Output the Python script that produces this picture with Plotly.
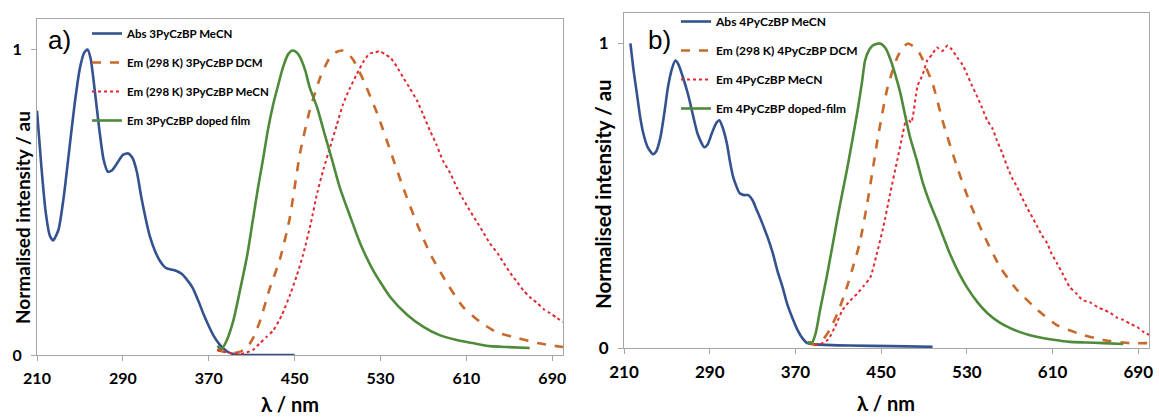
import plotly.graph_objects as go

# ---------------- Panel a) 3PyCzBP ----------------
a_abs_wl = [210, 214, 218, 222, 225, 230, 235, 240, 245, 250, 254, 257, 260, 264, 268, 272, 276, 280,
            285, 290, 295, 299, 303, 307, 311, 315, 320, 325, 330, 335, 340, 345, 350, 355, 360, 365,
            370, 375, 380, 385, 390, 395, 400, 420, 450]
a_abs_int = [0.80, 0.62, 0.47, 0.39, 0.375, 0.41, 0.52, 0.67, 0.82, 0.94, 0.99, 1.0, 0.97, 0.86, 0.74,
             0.64, 0.60, 0.605, 0.63, 0.655, 0.66, 0.645, 0.60, 0.52, 0.45, 0.39, 0.34, 0.305, 0.285,
             0.28, 0.275, 0.265, 0.245, 0.22, 0.18, 0.135, 0.095, 0.06, 0.035, 0.017, 0.006, 0.002,
             0.0, 0.0, 0.0]

a_dcm_wl = [378, 382, 386, 392, 400, 406, 412, 418, 427, 436, 445, 455, 464, 474, 483, 489, 494, 499,
            505, 514, 527, 539, 551, 564, 576, 592, 607, 623, 638, 657, 676, 700]
a_dcm_int = [0.02, 0.012, 0.01, 0.006, 0.012, 0.026, 0.06, 0.114, 0.22, 0.31, 0.44, 0.66, 0.80, 0.91,
             0.975, 0.992, 0.997, 0.99, 0.964, 0.90, 0.79, 0.67, 0.549, 0.43, 0.333, 0.235, 0.157,
             0.108, 0.075, 0.056, 0.039, 0.026]

a_mecn_wl = [378, 385, 392, 400, 405, 411, 418, 424, 430, 438, 446, 452, 458, 465, 471, 477, 483, 489,
             495, 501, 508, 514, 520, 525, 529, 534, 539, 545, 551, 557, 564, 570, 576, 582, 588, 595,
             601, 607, 613, 619, 626, 632, 639, 645, 651, 657, 663, 669, 676, 682, 688, 694, 700]
a_mecn_int = [0.015, 0.01, 0.005, 0.004, 0.008, 0.016, 0.04, 0.06, 0.08, 0.13, 0.2, 0.26, 0.33, 0.43,
              0.53, 0.61, 0.68, 0.75, 0.82, 0.87, 0.92, 0.96, 0.987, 0.99, 0.995, 0.985, 0.974, 0.945,
              0.909, 0.875, 0.833, 0.785, 0.735, 0.69, 0.637, 0.595, 0.549, 0.51, 0.474, 0.44, 0.40,
              0.365, 0.333, 0.30, 0.268, 0.24, 0.212, 0.19, 0.17, 0.15, 0.137, 0.122, 0.108]

a_film_wl = [378, 382, 387, 393, 399, 406, 411, 416, 421, 425, 430, 434, 439, 444, 448, 452, 455, 460,
             464, 471, 477, 485, 492, 502, 511, 523, 539, 555, 570, 585, 601, 616, 632, 648, 669]
a_film_int = [0.03, 0.02, 0.05, 0.114, 0.21, 0.33, 0.44, 0.55, 0.65, 0.735, 0.82, 0.875, 0.94, 0.985,
              0.997, 0.99, 0.975, 0.93, 0.876, 0.81, 0.735, 0.637, 0.549, 0.451, 0.366, 0.278, 0.19,
              0.131, 0.092, 0.065, 0.049, 0.039, 0.029, 0.026, 0.023]

# ---------------- Panel b) 4PyCzBP ----------------
b_abs_wl = [216, 219, 222, 225, 228, 232, 237, 240, 244, 248, 251, 255, 258, 261, 265, 270, 274, 279,
            285, 288, 292, 296, 299, 302, 306, 309, 312, 315, 318, 322, 326, 330, 334, 339, 344, 349,
            353, 358, 362, 367, 372, 377, 381, 390, 420, 460, 498]
b_abs_int = [1.0, 0.91, 0.836, 0.76, 0.705, 0.66, 0.636, 0.645, 0.692, 0.78, 0.856, 0.92, 0.944, 0.93,
             0.889, 0.83, 0.77, 0.70, 0.659, 0.668, 0.705, 0.738, 0.748, 0.725, 0.672, 0.61, 0.56,
             0.53, 0.508, 0.502, 0.502, 0.485, 0.452, 0.41, 0.364, 0.31, 0.256, 0.20, 0.148, 0.10,
             0.059, 0.03, 0.016, 0.012, 0.008, 0.006, 0.004]

b_dcm_wl = [383, 388, 394, 402, 410, 418, 424, 430, 438, 447, 456, 465, 470, 475, 480, 486, 492, 498,
            508, 521, 533, 545, 561, 577, 596, 614, 633, 657, 682, 700]
b_dcm_int = [0.02, 0.01, 0.02, 0.06, 0.12, 0.20, 0.27, 0.344, 0.495, 0.692, 0.856, 0.954, 0.985, 1.0,
             0.99, 0.967, 0.92, 0.869, 0.738, 0.593, 0.475, 0.377, 0.266, 0.19, 0.125, 0.075, 0.049,
             0.026, 0.016, 0.016]

b_mecn_wl = [383, 390, 400, 407, 414, 421, 428, 434, 440, 446, 452, 458, 465, 470, 474, 478, 484, 489,
             493, 498, 502, 507, 512, 516, 521, 526, 530, 535, 540, 544, 549, 554, 558, 563, 568, 572,
             577, 582, 586, 591, 596, 600, 605, 609, 614, 620, 626, 632, 638, 645, 652, 658, 664, 670,
             676, 682, 689, 694, 700]
b_mecn_int = [0.02, 0.01, 0.026, 0.07, 0.125, 0.155, 0.18, 0.205, 0.233, 0.31, 0.397, 0.50, 0.616,
              0.70, 0.757, 0.74, 0.86, 0.90, 0.944, 0.965, 0.987, 0.975, 0.993, 0.98, 0.954, 0.93,
              0.90, 0.86, 0.823, 0.79, 0.748, 0.72, 0.682, 0.64, 0.593, 0.56, 0.528, 0.49, 0.462,
              0.43, 0.397, 0.37, 0.344, 0.31, 0.279, 0.24, 0.20, 0.18, 0.157, 0.15, 0.134, 0.125,
              0.115, 0.10, 0.092, 0.08, 0.069, 0.055, 0.043]

b_film_wl = [381, 385, 389, 393, 399, 405, 411, 418, 423, 428, 432, 435, 439, 443, 449, 454, 458, 463,
             468, 472, 477, 483, 489, 495, 502, 508, 514, 522, 530, 540, 549, 560, 570, 583, 596, 611,
             626, 641, 657, 676]
b_film_int = [0.02, 0.015, 0.05, 0.125, 0.23, 0.344, 0.46, 0.584, 0.68, 0.78, 0.87, 0.944, 0.98, 0.995,
              1.0, 0.985, 0.954, 0.90, 0.836, 0.77, 0.692, 0.62, 0.541, 0.48, 0.42, 0.365, 0.311,
              0.25, 0.20, 0.15, 0.115, 0.085, 0.066, 0.048, 0.036, 0.027, 0.02, 0.018, 0.016, 0.013]

x_ticks = [210, 290, 370, 450, 530, 610, 690]
y_ticks = [0, 1]

names_a = ["Abs 3PyCzBP MeCN", "Em (298 K) 3PyCzBP DCM", "Em (298 K) 3PyCzBP MeCN",
           "Em 3PyCzBP doped film"]
names_b = ["Abs 4PyCzBP MeCN", "Em (298 K) 4PyCzBP DCM", "Em 4PyCzBP MeCN",
           "Em 4PyCzBP doped-film"]

BLUE = "#34528F"
ORANGE = "#C8692A"
RED = "#E3262F"
GREEN = "#4E8A3A"
AXIS = "#A6A6A6"
FONT = "Lato"

styles = [dict(color=BLUE, width=2.6, dash="solid"),
          dict(color=ORANGE, width=2.6, dash="dash"),
          dict(color=RED, width=2.0, dash="dot"),
          dict(color=GREEN, width=2.6, dash="solid")]

fig = go.Figure()

series_a = [(a_abs_wl, a_abs_int), (a_dcm_wl, a_dcm_int), (a_mecn_wl, a_mecn_int), (a_film_wl, a_film_int)]
series_b = [(b_abs_wl, b_abs_int), (b_dcm_wl, b_dcm_int), (b_mecn_wl, b_mecn_int), (b_film_wl, b_film_int)]

for i, ((xs, ys), nm) in enumerate(zip(series_a, names_a)):
    fig.add_trace(go.Scatter(x=xs, y=ys, mode="lines", name=nm, line=dict(shape="spline", smoothing=0.6, **styles[i]),
                             xaxis="x", yaxis="y", legend="legend", legendgroup="a%d" % i))
for i, ((xs, ys), nm) in enumerate(zip(series_b, names_b)):
    fig.add_trace(go.Scatter(x=xs, y=ys, mode="lines", name=nm, line=dict(shape="spline", smoothing=0.6, **styles[i]),
                             xaxis="x2", yaxis="y2", legend="legend2", legendgroup="b%d" % i))

W, H = 1159, 417

def xax(domain, size, anchor):
    return dict(domain=domain, range=[210, 700], tickvals=x_ticks, showline=True, linecolor=AXIS,
                linewidth=1, mirror=True, ticks="outside", ticklen=5, tickcolor=AXIS, showgrid=False,
                zeroline=False, ticklabelstandoff=4, automargin=False, anchor=anchor,
                tickfont=dict(family=FONT, size=size, color="#000000", weight="bold"))

def yax(domain, size, anchor):
    return dict(domain=domain, range=[0, 1.1], tickvals=y_ticks, showline=True, linecolor=AXIS,
                linewidth=1, mirror=True, ticks="outside", ticklen=5, tickcolor=AXIS, showgrid=False,
                zeroline=False, ticklabelstandoff=6, automargin=False, anchor=anchor,
                tickfont=dict(family=FONT, size=size, color="#000000", weight="bold"))

def ann(text, x, y, size, family=FONT, bold=True, angle=0):
    f = dict(family=family, size=size, color="#000000")
    if bold:
        f["weight"] = "bold"
    return dict(text=text, x=x / W, y=1 - y / H, xref="paper", yref="paper", showarrow=False,
                xanchor="center", yanchor="middle", textangle=angle, font=f)

fig.update_layout(
    width=W, height=H, autosize=False,
    margin=dict(l=0, r=0, t=0, b=0, pad=0),
    paper_bgcolor="white", plot_bgcolor="white",
    xaxis=xax([37 / W, 563 / W], 16, "y"),
    yaxis=yax([1 - 355 / H, 1 - 19 / H], 16, "x"),
    xaxis2=xax([624 / W, 1149 / W], 17, "y2"),
    yaxis2=yax([1 - 348 / H, 1 - 13 / H], 17, "x2"),
    legend=dict(x=87 / W, y=1 - 19 / H, xanchor="left", yanchor="top", bgcolor="rgba(0,0,0,0)",
                font=dict(family=FONT, size=11.5, color="#000000", weight="bold"), tracegroupgap=10),
    legend2=dict(x=676 / W, y=1 - 7 / H, xanchor="left", yanchor="top", bgcolor="rgba(0,0,0,0)",
                 font=dict(family=FONT, size=12, color="#000000", weight="bold"), tracegroupgap=10),
    annotations=[
        ann("a)", 59, 40, 26, family="Liberation Sans", bold=False),
        ann("b)", 659, 40, 26, family="Liberation Sans", bold=False),
        ann("λ / nm", 290, 404, 20),
        ann("λ / nm", 886, 403, 20),
        ann("Normalised intensity / au", 22, 218, 19, angle=-90),
        ann("Normalised intensity / au", 603, 194, 20.5, angle=-90),
    ],
)

fig.write_html("out.html", config={"displayModeBar": False},
               post_script="document.body.style.margin='0';document.body.style.overflow='hidden';")
